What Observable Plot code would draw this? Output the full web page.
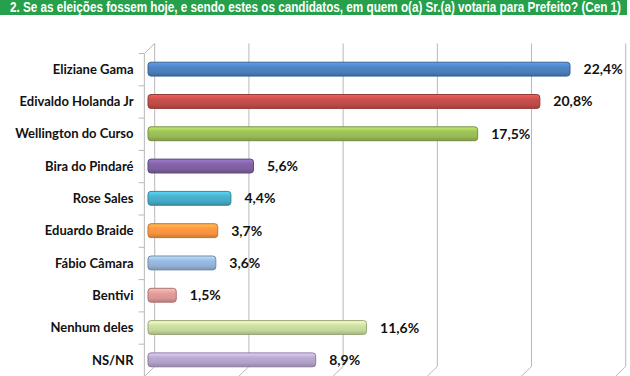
<!DOCTYPE html>
<html>
<head>
<meta charset="utf-8">
<script src="https://cdn.jsdelivr.net/npm/d3@7"></script>
<script src="https://cdn.jsdelivr.net/npm/@observablehq/plot@0.6"></script>
<style>
  html, body { margin: 0; padding: 0; background: #fff; }
  #title {
    width: 627px; height: 15px; line-height: 15px; margin-bottom: 1px;
    background: #26a04a; color: #fff; overflow: hidden; position: relative;
  }
  #title span {
    position: absolute; left: 10px; top: 0;
    font-family: "Liberation Sans", Arial, sans-serif;
    font-weight: bold; font-size: 14px; white-space: nowrap;
    transform-origin: 0 50%;
  }
  #chart svg { display: block; }
</style>
</head>
<body>
<div id="title"><span id="titleText">2. Se as eleições fossem hoje, e sendo estes os candidatos, em quem o(a) Sr.(a) votaria para Prefeito? (Cen 1)</span></div>
<div id="chart"></div>
<script>
const categories = ["Eliziane Gama", "Edivaldo Holanda Jr", "Wellington do Curso", "Bira do Pindaré", "Rose Sales", "Eduardo Braide", "Fábio Câmara", "Bentivi", "Nenhum deles", "NS/NR"];
const values = [22.4, 20.8, 17.5, 5.6, 4.4, 3.7, 3.6, 1.5, 11.6, 8.9];
const colors = ["#4a7ebb", "#be4b48", "#98b954", "#7d60a0", "#46aac5", "#f69240", "#93b1d6", "#d99694", "#c4d79b", "#b2a1c7"];
const xTicks = [0, 5, 10, 15, 20, 25];

const rows = categories.map((c, i) => ({c, i, v: values[i], color: colors[i]}));
const boundaries = d3.range(-0.5, categories.length, 1);
const fmt = v => v.toFixed(1).replace(".", ",") + "%";

// condense the title to the reference's narrow width
const tspan = document.getElementById("titleText");
const tw = tspan.getBoundingClientRect().width;
tspan.style.transform = `scaleX(${611 / tw})`;

// 3D wall depth offsets (in data units)
const FX = -0.22, BX = 0.33, BY = -0.31;
const yTop = -0.5, yBot = categories.length - 0.5;
const half = 0.215;
const wall = "#b8b8b8";
const font = "Lato, 'Open Sans', sans-serif";

const svg = Plot.plot({
  width: 630, height: 360,
  marginTop: 37, marginBottom: 0, marginLeft: 148, marginRight: 11,
  style: {overflow: "visible", background: "transparent"},
  x: {domain: [0, 25], axis: null},
  y: {domain: [yTop, yBot], reverse: true, axis: null},
  marks: [
    Plot.link(xTicks, {x1: t => t + BX, x2: t => t + BX, y1: () => yTop + BY, y2: () => yBot + BY, stroke: wall, strokeWidth: 1}),
    Plot.link(xTicks, {x1: t => t + FX, x2: t => t + BX, y1: () => yBot, y2: () => yBot + BY, stroke: wall, strokeWidth: 1}),
    Plot.link([0], {x1: () => FX, x2: () => FX, y1: () => yTop, y2: () => yBot, stroke: wall, strokeWidth: 1}),
    Plot.link([0], {x1: () => FX, x2: () => BX, y1: () => yTop, y2: () => yTop + BY, stroke: wall, strokeWidth: 1}),
    Plot.link(boundaries, {x1: () => FX - 0.3, x2: () => FX, y1: b => b, y2: b => b, stroke: wall, strokeWidth: 1}),
    Plot.rect(rows, {
      x1: () => 0, x2: "v", y1: d => d.i - half, y2: d => d.i + half,
      fill: d => `url(#barGrad${d.i})`,
      stroke: d => d3.color(d.color).darker(0.7).formatHex(),
      strokeWidth: 1, rx: 3
    }),
    Plot.text(rows, {x: () => 0, y: "i", text: "c", textAnchor: "end", dx: -15,
      fontWeight: "bold", fontSize: 13, fontFamily: font, fill: "#111"}),
    Plot.text(rows, {x: "v", y: "i", text: d => fmt(d.v), textAnchor: "start", dx: 13,
      fontWeight: "bold", fontSize: 14, fontFamily: font, fill: "#111"})
  ]
});

const defs = d3.select(svg).insert("defs", ":first-child");
rows.forEach(d => {
  const c = d3.color(d.color);
  const g = defs.append("linearGradient").attr("id", `barGrad${d.i}`)
    .attr("x1", 0).attr("y1", 0).attr("x2", 0).attr("y2", 1);
  g.append("stop").attr("offset", "0%").attr("stop-color", c.brighter(0.7).formatHex());
  g.append("stop").attr("offset", "35%").attr("stop-color", c.brighter(0.15).formatHex());
  g.append("stop").attr("offset", "70%").attr("stop-color", c.formatHex());
  g.append("stop").attr("offset", "100%").attr("stop-color", c.darker(0.5).formatHex());
});

document.getElementById("chart").appendChild(svg);
</script>
</body>
</html>
